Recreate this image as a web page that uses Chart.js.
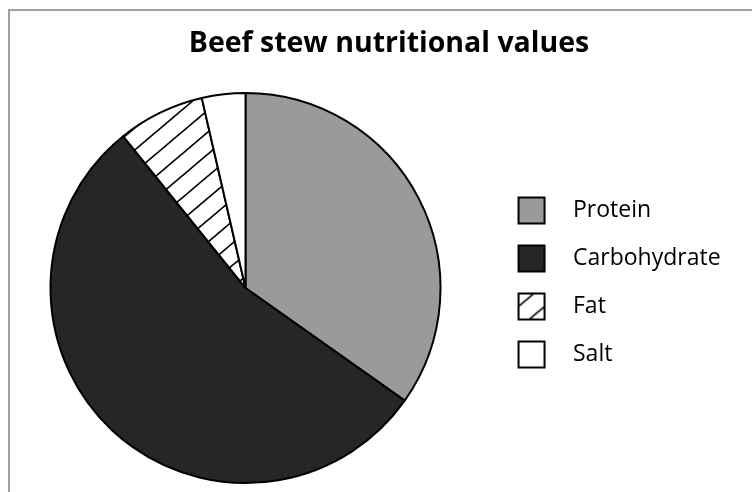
<!DOCTYPE html>
<html><head><meta charset="utf-8">
<script src="https://cdn.jsdelivr.net/npm/chart.js@4"></script>
<style>
html,body{margin:0;padding:0;background:#fff;overflow:hidden;width:752px;height:492px}
#frame{position:absolute;left:8px;top:9px;width:800px;height:600px;border-left:2px solid #a0a0a0;border-top:2px solid #a0a0a0}
#c{position:absolute;left:0;top:0}
</style></head><body>
<div id="frame"></div>
<canvas id="c" width="800" height="527"></canvas>
<script>
const chartTitle = 'Beef stew nutritional values';
const categories = ['Protein', 'Carbohydrate', 'Fat', 'Salt'];
const values = [34.8, 54.4, 7.2, 3.6];

const FAMILY = "'Open Sans', sans-serif";
const LEGEND_SIZE = 23;
const LEGEND_PAD = 25;

function makeHatch() {
  const w = 26, h = 22;
  const c = document.createElement('canvas');
  c.width = w; c.height = h;
  const g = c.getContext('2d');
  g.fillStyle = '#fff'; g.fillRect(0, 0, w, h);
  g.strokeStyle = '#000'; g.lineWidth = 1.7;
  for (let k = 0; k <= 2; k++) {
    g.beginPath();
    g.moveTo(-w, (k + 1) * h);
    g.lineTo(2 * w, (k - 2) * h);
    g.stroke();
  }
  return g.createPattern(c, 'repeat');
}
const hatch = makeHatch();
const fills = ['#9a9a9a', '#262626', hatch, '#ffffff'];

// legend geometry
const mctx = document.createElement('canvas').getContext('2d');
mctx.font = LEGEND_SIZE + 'px ' + FAMILY;
const tw = Math.max(...categories.map(t => mctx.measureText(t).width));
const PAD_L = 195 - tw;
const PSW = 277 - LEGEND_PAD - LEGEND_SIZE / 2 - tw;
const PAD_R = 22 + PAD_L;
const legendX = 491 - PAD_L + LEGEND_PAD;
const imgCenter = legendX + PSW / 2;
const dx = 531.5 - imgCenter;

function makeBox(fill) {
  const s = 26;
  const iw = Math.ceil(2 * (Math.abs(dx) + s / 2 + 3));
  const ih = s + 6;
  const c = document.createElement('canvas');
  c.width = iw; c.height = ih;
  const g = c.getContext('2d');
  const x0 = iw / 2 + dx - s / 2, y0 = ih / 2 - s / 2;
  g.save();
  g.beginPath(); g.rect(x0, y0, s, s); g.clip();
  g.translate(x0 - 6, y0 - 4);
  g.fillStyle = fill; g.fillRect(-10, -10, s + 20, s + 20);
  g.restore();
  g.strokeStyle = '#000'; g.lineWidth = 2;
  g.strokeRect(x0, y0, s, s);
  return c;
}
const boxImgs = fills.map(f => makeBox(f));

Chart.defaults.font.family = FAMILY;

new Chart(document.getElementById('c'), {
  type: 'pie',
  data: {
    labels: categories,
    datasets: [{
      data: values,
      backgroundColor: fills,
      borderColor: '#000',
      borderWidth: 2,
      radius: 195,
      clip: false
    }]
  },
  options: {
    responsive: false,
    animation: false,
    layout: { padding: { left: PAD_L, right: PAD_R, top: 38, bottom: 0 } },
    plugins: {
      title: {
        display: true,
        text: chartTitle,
        color: '#000',
        padding: 0,
        font: { family: FAMILY, size: 28.5, weight: 'bold', lineHeight: '11px' }
      },
      legend: {
        position: 'right',
        align: 'center',
        fullSize: true,
        labels: {
          usePointStyle: true,
          pointStyleWidth: PSW,
          padding: LEGEND_PAD,
          color: '#000',
          font: { family: FAMILY, size: LEGEND_SIZE },
          generateLabels: () => categories.map((t, i) => ({
            text: t, pointStyle: boxImgs[i], fillStyle: fills[i],
            strokeStyle: '#000', lineWidth: 0, hidden: false, index: i, fontColor: '#000'
          }))
        }
      },
      tooltip: { enabled: false }
    }
  }
});
</script>
</body></html>
